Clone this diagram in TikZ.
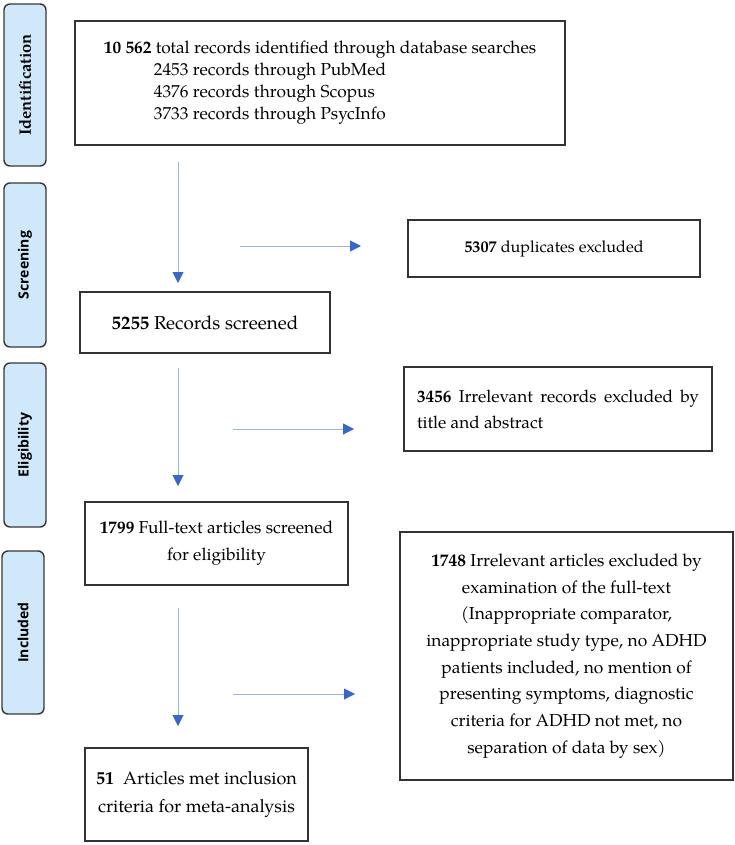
\documentclass[tikz,border=0pt]{standalone}
\usepackage{fontspec}
\setmainfont{TeX Gyre Pagella}
\newfontfamily\stagefont{Open Sans}
\usetikzlibrary{arrows.meta}
\definecolor{stagefill}{RGB}{207,233,251}
\definecolor{stageline}{RGB}{55,55,55}
\definecolor{flowline}{RGB}{150,182,232}
\definecolor{flowtip}{RGB}{52,104,206}
\begin{document}
\begin{tikzpicture}[x=1pt,y=-1pt,
    stage/.style={rotate=90,draw=stageline,line width=1.4pt,fill=stagefill,
      rounded corners=6pt,minimum height=42pt,inner sep=0pt},
    stagesans/.style={font=\stagefont\bfseries\fontsize{14}{16}\selectfont},
    record/.style={draw=black!80,line width=1.1pt,inner sep=0pt},
    flow/.style={draw=flowline,line width=1pt,
      -{Triangle[color=flowtip,length=11pt,width=11pt]}}]
  \useasboundingbox (0,0) rectangle (734,845);
  % stage labels on the left
  \node[stage,minimum width=162pt,font=\rmfamily\bfseries\fontsize{16.5}{18}\selectfont]
    (identification) at (25,85) {Identification};
  \node[stage,stagesans,minimum width=164pt] (screening) at (25,265) {Screening};
  \node[stage,stagesans,minimum width=164pt] (eligibility) at (25,445) {Eligibility};
  \node[stage,stagesans,minimum width=163pt] (included) at (23,632.5) {Included};
  % main column
  \node[record,minimum width=490pt,minimum height=124pt,align=left,
    font=\fontsize{17.3}{22}\selectfont] (search) at (320,83)
    {\textbf{10 562} total records identified through database searches\\
     \hspace*{50pt}2453 records through PubMed\\
     \hspace*{50pt}4376 records through Scopus\\
     \hspace*{50pt}3733 records through PsycInfo};
  \node[record,minimum width=250pt,minimum height=61pt,
    font=\fontsize{18.8}{26.5}\selectfont] (screened) at (205,322.5)
    {\textbf{5255} Records screened};
  \node[record,minimum width=263pt,minimum height=83pt,align=center,
    font=\fontsize{17.3}{27}\selectfont] (fulltext) at (216.5,543.5)
    {\textbf{1799} Full-text articles screened\\for eligibility};
  \node[record,minimum width=223pt,minimum height=93pt,align=center,
    font=\fontsize{18}{28}\selectfont] (metaanalysis) at (196.5,794.5)
    {\textbf{51}\ \ Articles met inclusion\\criteria for meta-analysis};
  % exclusions on the right
  \node[record,minimum width=292pt,minimum height=57pt,
    font=\fontsize{16.2}{26.5}\selectfont] (duplicates) at (554,248.5)
    {\textbf{5307} duplicates excluded};
  \node[record,minimum width=308pt,minimum height=84pt,text width=282pt,
    align=justify,font=\fontsize{17.2}{26}\selectfont] (abstracts) at (558,409)
    {\textbf{3456} Irrelevant records excluded by\linebreak title and abstract};
  \node[record,minimum width=333pt,minimum height=248pt,align=center,
    font=\fontsize{17.4}{26.7}\selectfont] (articles) at (566.5,656)
    {\textbf{1748} Irrelevant articles excluded by\\
     examination of the full-text\\
     (Inappropriate comparator,\\
     inappropriate study type, no ADHD\\
     patients included, no mention of\\
     presenting symptoms, diagnostic\\
     criteria for ADHD not met, no\\
     separation of data by sex)};
  % arrow ends
  \coordinate (down1) at (178,162);
  \coordinate (down1end) at (178,283);
  \coordinate (right1) at (240,246);
  \coordinate (right1end) at (361,246);
  \coordinate (down2) at (178,368);
  \coordinate (down2end) at (178,486);
  \coordinate (right2) at (233,429);
  \coordinate (right2end) at (354,429);
  \coordinate (down3) at (178,608);
  \coordinate (down3end) at (178,726);
  \coordinate (right3) at (233,694);
  \coordinate (right3end) at (355,694);
  \begin{scope}[flow]
    \draw (down1) to (down1end);
    \draw (right1) to (right1end);
    \draw (down2) to (down2end);
    \draw (right2) to (right2end);
    \draw (down3) to (down3end);
    \draw (right3) to (right3end);
  \end{scope}
\end{tikzpicture}
\end{document}
